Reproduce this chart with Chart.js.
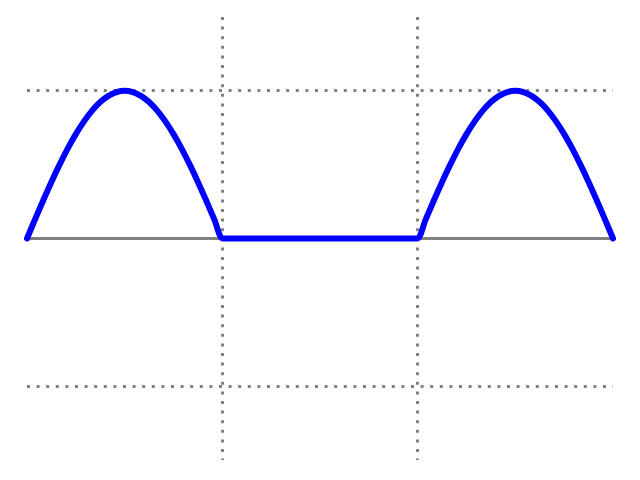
<!DOCTYPE html>
<html>
<head>
<meta charset="utf-8">
<script src="https://cdn.jsdelivr.net/npm/chart.js@4"></script>
<style>
  html, body { margin: 0; padding: 0; background: #fff; }
</style>
</head>
<body>
<canvas id="waveChart" width="640" height="480"></canvas>
<script>
// x in multiples of pi, y is the rectified signal
var xValues = [0, 0.0417, 0.0833, 0.125, 0.1667, 0.2083, 0.25, 0.2917, 0.3333, 0.375, 0.4167, 0.4583, 0.5,
               0.5417, 0.5833, 0.625, 0.6667, 0.7083, 0.75, 0.7917, 0.8333, 0.875, 0.9167, 0.9583, 1,
               2, 2.0417, 2.0833, 2.125, 2.1667, 2.2083, 2.25, 2.2917, 2.3333, 2.375, 2.4167, 2.4583, 2.5,
               2.5417, 2.5833, 2.625, 2.6667, 2.7083, 2.75, 2.7917, 2.8333, 2.875, 2.9167, 2.9583, 3];
var yValues = [0, 0.131, 0.259, 0.383, 0.5, 0.609, 0.707, 0.793, 0.866, 0.924, 0.966, 0.991, 1,
               0.991, 0.966, 0.924, 0.866, 0.793, 0.707, 0.609, 0.5, 0.383, 0.259, 0.131, 0,
               0, 0.131, 0.259, 0.383, 0.5, 0.609, 0.707, 0.793, 0.866, 0.924, 0.966, 0.991, 1,
               0.991, 0.966, 0.924, 0.866, 0.793, 0.707, 0.609, 0.5, 0.383, 0.259, 0.131, 0];
var xGridAt = [1, 2];
var yGridAt = [-1, 0, 1];

var points = xValues.map(function (x, i) { return { x: x, y: yValues[i] }; });

// solid zero line across the plot
var zeroLine = {
  id: 'zeroLine',
  beforeDatasetsDraw: function (chart) {
    var c = chart.ctx, a = chart.chartArea;
    var y = chart.scales.y.getPixelForValue(0);
    c.save();
    c.strokeStyle = '#808080';
    c.lineWidth = 3;
    c.beginPath();
    c.moveTo(a.left, y);
    c.lineTo(a.right, y);
    c.stroke();
    c.restore();
  }
};

var ctx = document.getElementById('waveChart').getContext('2d');
var waveChart = new Chart(ctx, {
  type: 'line',
  data: {
    datasets: [{
      data: points,
      borderColor: '#0000ff',
      borderWidth: 6,
      borderCapStyle: 'round',
      borderJoinStyle: 'round',
      pointRadius: 0,
      cubicInterpolationMode: 'monotone',
      fill: false,
      clip: false
    }]
  },
  options: {
    responsive: false,
    animation: false,
    devicePixelRatio: 1,
    layout: { padding: { left: 27, right: 27, top: 17, bottom: 20 } },
    plugins: { legend: { display: false }, tooltip: { enabled: false } },
    scales: {
      x: {
        type: 'linear', min: 0, max: 3,
        afterBuildTicks: function (s) { s.ticks = xGridAt.map(function (v) { return { value: v }; }); },
        ticks: { display: false },
        grid: { color: '#808080', lineWidth: 3, drawTicks: false },
        border: { display: false, dash: [3, 6.6] }
      },
      y: {
        min: -1.5, max: 1.5,
        afterBuildTicks: function (s) { s.ticks = yGridAt.map(function (v) { return { value: v }; }); },
        ticks: { display: false },
        grid: {
          color: function (c) { return c.tick && c.tick.value === 0 ? 'rgba(0,0,0,0)' : '#808080'; },
          lineWidth: 3, drawTicks: false
        },
        border: { display: false, dash: [3, 6.6] }
      }
    }
  },
  plugins: [zeroLine]
});
</script>
</body>
</html>
